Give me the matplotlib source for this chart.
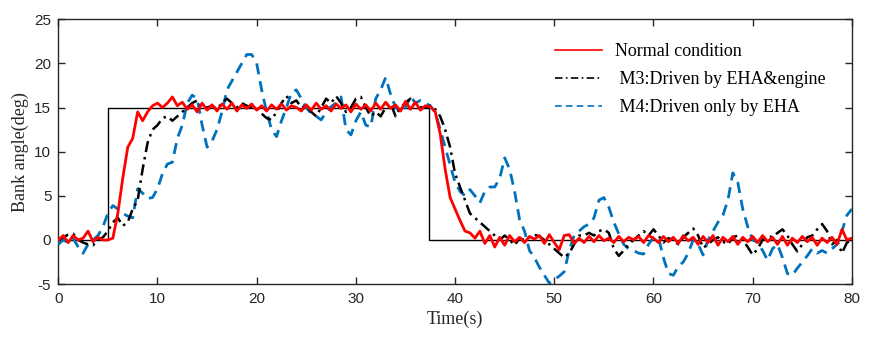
import matplotlib
matplotlib.use("Agg")
import matplotlib.pyplot as plt
import numpy as np

time_s = np.arange(0, 80.01, 0.5)

normal = [
    0, 0.5, -0.3, 0.5, 0, 0.2, 1.0, -0.2, 0.3, 0,
    0, 0.2, 3.0, 7.0, 10.5, 11.5, 14.5, 13.5, 14.5, 15.2,
    15.5, 15.0, 15.5, 16.2, 15.2, 15.6, 14.8, 15.3, 14.5, 15.5,
    14.7, 15.3, 14.6, 15.4, 14.8, 15.5, 14.6, 15.3, 14.9, 15.4,
    14.7, 15.2, 14.6, 15.3, 14.8, 15.4, 14.7, 15.2, 15.0, 14.6,
    15.3, 14.7, 15.5, 14.8, 15.2, 14.6, 15.4, 14.9, 15.3, 14.5,
    15.4, 14.8, 15.3, 14.6, 15.5, 14.8, 15.6, 14.9, 15.3, 14.6,
    15.7, 14.8, 15.6, 14.7, 15.2, 15.1, 14.5, 12.0, 8.0, 4.8,
    3.5, 2.2, 1.0, 0.8, 0.2, 1.0, -0.4, 0.5, -0.8, 0.3,
    -0.6, 0.5, -0.2, 0.3, -0.3, 0.4, 0.1, 0.5, -0.4, 0.6,
    -0.3, -1.1, 0.5, 0.6, -0.4, 0.2, -0.3, 0.4, -0.2, 0.5,
    -0.1, 0.2, -0.3, 0.4, -0.2, 0.3, 0.0, 0.4, -0.3, 0.5,
    0.2, -0.3, 0.4, -0.2, 0.3, -0.4, 0.5, -0.1, 0.3, -0.5,
    0.4, -0.3, 0.5, -0.6, 0.3, -0.2, 0.4, -0.5, 0.3, -0.2,
    0.4, -0.3, 0.5, -0.2, 0.3, -0.5, 0.4, -0.6, 0.2, -0.3,
    0.4, -0.2, 0.3, -0.6, 0.2, -0.3, 0.3, -0.5, 1.2, 0.0,
    0.2,
]

m3 = [
    0, 0.3, 0.6, 0.7, 0, -0.3, -0.5, -0.6, 0, 0.3,
    1.0, 2.0, 2.5, 1.6, 2.0, 3.5, 4.5, 8.0, 11.0, 12.5,
    13.0, 13.8, 14.0, 13.5, 14.0, 14.5, 15.0, 15.5, 15.8, 15.0,
    15.0, 15.2, 14.8, 15.5, 16.0, 15.5, 15.0, 15.5, 15.2, 15.0,
    15.0, 14.3, 13.8, 13.6, 14.5, 15.5, 16.3, 15.5, 15.8, 15.0,
    15.2, 14.5, 14.0, 15.0, 16.0, 15.5, 16.3, 15.5, 14.5, 15.0,
    16.0, 16.2, 15.0, 14.0, 14.5, 14.0, 15.0, 15.5, 14.0, 15.0,
    15.5, 16.0, 15.2, 15.0, 15.0, 15.2, 14.8, 14.0, 12.5, 10.5,
    7.5, 6.0, 4.5, 3.0, 2.5, 2.0, 1.5, 1.0, 0.5, 0.0,
    0.5, 0.0, -0.6, 0.2, 0.0, 0.3, 0.6, 0.4, 0.0, -0.5,
    -1.0, -1.5, -2.0, -1.5, -0.5, 0.5, 0.5, 0.8, 0.5, 1.0,
    1.2, 0.8, -1.0, -1.8, -1.2, -0.5, 0.0, 0.5, 1.0, 0.5,
    1.2, 0.5, -0.3, 0.2, 0.0, -0.5, 0.3, 0.8, 1.3, 0.5,
    -0.9, -0.5, 0.0, 0.3, -0.2, -0.5, 0.3, 0.5, 0.0, -0.8,
    -1.7, -1.0, 0.0, 0.5, 0.3, 0.8, 1.2, 0.5, -0.5, -1.3,
    -0.5, 0.3, 0.5, 1.2, 1.8, 1.0, -0.5, 0.0, -1.5, -0.3,
    0.0,
]

m4 = [
    -0.5, 0.0, -0.3, 0.2, -0.8, -1.5, -0.5, 0.0, 0.5, 1.5,
    3.0, 3.9, 3.5, 3.0, 2.7, 2.5, 5.8, 5.3, 4.7, 4.8,
    5.8, 7.5, 8.6, 8.8, 11.5, 13.0, 15.5, 16.4, 16.0, 13.0,
    10.5, 11.2, 12.5, 14.5, 17.0, 18.0, 19.0, 20.0, 21.0, 21.0,
    20.0, 17.0, 14.5, 12.5, 11.7, 13.5, 15.0, 16.7, 17.0, 16.0,
    15.0, 14.3, 14.0, 13.6, 14.5, 15.1, 15.5, 16.2, 12.5, 11.9,
    13.5, 14.5, 13.0, 12.8, 16.0, 17.0, 18.4, 16.5, 15.0, 14.5,
    15.0, 16.3, 15.5, 15.8, 15.5, 15.2, 14.5, 12.5, 10.5, 8.5,
    6.5, 5.5, 5.0, 5.7, 5.0, 4.2, 5.5, 6.0, 6.0, 7.0,
    9.3, 8.0, 5.5, 2.3, 1.0, -1.2, -2.0, -3.1, -4.0, -4.9,
    -4.5, -4.1, -3.6, -1.2, 0.5, 1.0, 1.5, 1.8, 2.5, 4.5,
    4.8, 3.7, 2.0, 0.7, -0.5, -1.0, -1.2, -1.5, -1.6, -0.5,
    0.3, 0.3, -2.0, -3.8, -4.0, -3.0, -2.5, -1.5, 0.0, -0.5,
    -1.7, 0.0, 1.0, 2.0, 2.8, 4.5, 7.6, 6.5, 3.5, 1.5,
    0.0, -0.3, -1.2, -2.3, -1.0, -0.5, -2.0, -3.8, -4.0, -3.2,
    -2.5, -1.8, -1.0, -1.5, -1.2, -1.5, -1.0, -0.5, 1.0, 2.8,
    3.5,
]

# commanded bank angle (step up at 5 s, back to zero at 37.4 s)
cmd_t = [0, 5.0, 5.0, 37.4, 37.4, 80]
cmd_v = [0, 0, 15, 15, 0, 0]

labels = ["Normal condition", " M3:Driven by EHA&engine", " M4:Driven only by EHA"]

SERIF = ["Liberation Serif", "DejaVu Serif"]
SANS = ["Liberation Sans", "DejaVu Sans"]

plt.rcParams["axes.unicode_minus"] = False

fig = plt.figure(figsize=(8.74, 3.37), dpi=100)
ax = fig.add_axes([0.0667, 0.157, 0.908, 0.786])

ax.plot(cmd_t, cmd_v, color="black", lw=1.0, zorder=2)
l_m4, = ax.plot(time_s, m4, color="#0072BD", lw=2.0, ls=(0, (4, 2.5)), zorder=3)
l_m3, = ax.plot(time_s, m3, color="black", lw=1.8, ls=(0, (4.5, 2, 1, 2)), zorder=4)
l_n, = ax.plot(time_s, normal, color="#FF0000", lw=2.0, zorder=5)

ax.set_xlim(0, 80)
ax.set_ylim(-5, 25)
ax.set_xticks(np.arange(0, 81, 10))
ax.set_yticks(np.arange(-5, 26, 5))
ax.tick_params(direction="in", top=True, right=True, length=5, width=1,
               colors="#262626", labelsize=11)
ax.tick_params(axis="x", pad=6)
ax.tick_params(axis="y", pad=5)
for lab in ax.get_xticklabels() + ax.get_yticklabels():
    lab.set_family(SANS)
for s in ax.spines.values():
    s.set_color("#262626")
    s.set_linewidth(1.0)

ax.set_xlabel("Time(s)", family=SERIF, fontsize=13, labelpad=3, color="#262626")
ax.set_ylabel("Bank angle(deg)", family=SERIF, fontsize=13, labelpad=4, color="#262626")

leg = ax.legend([l_n, l_m3, l_m4], labels, loc="upper left",
                bbox_to_anchor=(0.606, 0.97), frameon=False,
                prop={"family": SERIF, "size": 13}, handlelength=2.6,
                handletextpad=0.7, labelspacing=0.6)
for ln in leg.get_lines():
    ln.set_linewidth(1.2)

fig.savefig("out.png", dpi=100)
